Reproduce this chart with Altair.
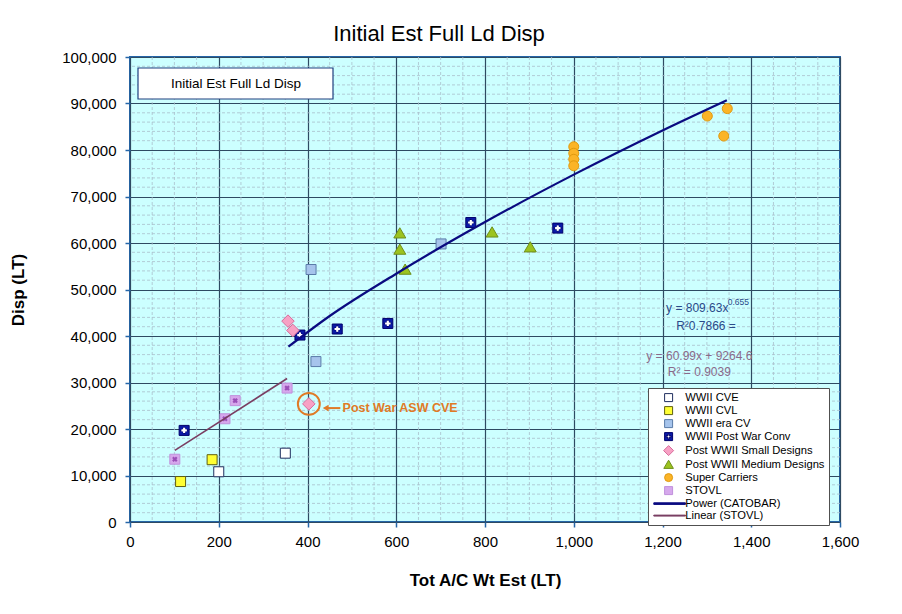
import altair as alt
import pandas as pd

# ---------------- data ----------------
categories = ["WWII CVE", "WWII CVL", "WWII era CV", "WWII Post War Conv",
              "Post WWII Small Designs", "Post WWII Medium Designs",
              "Super Carriers", "STOVL"]
trend_names = ["Power (CATOBAR)", "Linear (STOVL)"]

cve_x = [200, 350]
cve_y = [10800, 14800]
cvl_x = [114, 185]
cvl_y = [8700, 13400]
era_x = [408, 419, 701]
era_y = [54300, 34500, 59800]
conv_x = [122, 383, 467, 581, 768, 964]
conv_y = [19700, 40200, 41500, 42700, 64400, 63200]
small_x = [356, 367, 403]
small_y = [43200, 41200, 25400]
medium_x = [608, 608, 620, 816, 902]
medium_y = [62100, 58600, 54300, 62300, 59100]
super_x = [1000, 1000, 1000, 1000, 1301, 1346, 1338]
super_y = [80700, 79300, 78000, 76600, 87300, 88900, 83000]
stovl_x = [101, 214, 237, 354]
stovl_y = [13500, 22200, 26100, 28800]

power_x = [357, 450, 600, 800, 1000, 1200, 1345]
power_y = [37700, 44300, 53400, 64500, 74700, 84200, 90700]
linear_x = [101, 354]
linear_y = [15400, 30850]

x_ticks = [0, 200, 400, 600, 800, 1000, 1200, 1400, 1600]
y_ticks = [0, 10000, 20000, 30000, 40000, 50000, 60000, 70000, 80000, 90000, 100000]
x_minor = [v for v in range(50, 1600, 50) if v % 200 != 0]
y_minor = [v for v in range(2000, 100000, 2000) if v % 10000 != 0]

power_eq = "y = 809.63x"
power_exp = "0.655"
power_r2 = "R\u00b20.7866 ="
linear_eq = "y = 60.99x + 9264.6"
linear_r2 = "R\u00b2 = 0.9039"
callout_text = "Post War ASW CVE"
box_text = "Initial Est Full Ld Disp"
title_text = "Initial Est Full Ld Disp"

# ---------------- tables ----------------
series_xy = [cve_x, cvl_x, era_x, conv_x, small_x, medium_x, super_x, stovl_x]
series_yy = [cve_y, cvl_y, era_y, conv_y, small_y, medium_y, super_y, stovl_y]
rows = []
for name, xs_, ys_ in zip(categories, series_xy, series_yy):
    for a, b in zip(xs_, ys_):
        rows.append({"series": name, "x": a, "y": b})
pts = pd.DataFrame(rows)
power_df = pd.DataFrame({"x": power_x, "y": power_y})
linear_df = pd.DataFrame({"x": linear_x, "y": linear_y})

FONT = "Liberation Sans"
legend_domain = categories + trend_names

conv_path = ("M-1,-1L1,-1L1,1L-1,1Z "
             "M-0.17,-0.62L-0.17,-0.17L-0.62,-0.17L-0.62,0.17L-0.17,0.17L-0.17,0.62"
             "L0.17,0.62L0.17,0.17L0.62,0.17L0.62,-0.17L0.17,-0.17L0.17,-0.62Z")
diamond_path = "M-1.25,0L0,-1.25L1.25,0L0,1.25Z"
triangle_path = "M0,-1.1L1.2,0.95L-1.2,0.95Z"
power_path = "M-3.7,-0.2L4.2,-0.2L4.2,0.2L-3.7,0.2Z"
linear_path = "M-3.7,-0.12L4.2,-0.12L4.2,0.12L-3.7,0.12Z"

shape_range = ["square", "square", "square", conv_path, diamond_path, triangle_path,
               "circle", "square", power_path, linear_path]
fill_range = ["#FFFFFF", "#FFFF33", "#A6C4EC", "#0A1AA8", "#F7A1C4", "#9CC31F",
              "#FBB427", "#D6A8EC", "#0A0A80", "#7A3E62"]
stroke_range = ["#1F2F5F", "#5F5F10", "#5A7BA8", "#00006A", "#D86C9C", "#6E8F1A",
                "#E09A10", "#C090DC", "#0A0A80", "#7A3E62"]

xs = alt.Scale(domain=[0, 1600], nice=False, zero=False)
ys = alt.Scale(domain=[0, 100000], nice=False)

x_axis = alt.Axis(values=x_ticks, format=",.0f", grid=True, gridColor="#2E4A62", gridWidth=1.2,
                  domain=False, ticks=True, tickColor="#2566A8", tickSize=5, tickWidth=1.5,
                  labelFontSize=15, labelFont=FONT, labelColor="black", labelPadding=7,
                  labelFlush=False, labelOverlap=False,
                  title="Tot A/C Wt Est (LT)", titleFont=FONT, titleFontSize=17,
                  titleFontWeight="bold", titleColor="black", titleX=355, titleY=58,
                  titleBaseline="middle")
y_axis = alt.Axis(values=y_ticks, format=",.0f", grid=True, gridColor="#2E4A62", gridWidth=1.2,
                  domain=False, ticks=True, tickColor="#2566A8", tickSize=5, tickWidth=1.5,
                  labelFontSize=15, labelFont=FONT, labelColor="black", labelPadding=9,
                  labelFlush=False, labelOverlap=False,
                  title="Disp (LT)", titleFont=FONT, titleFontSize=17,
                  titleFontWeight="bold", titleColor="black", titleX=-112, titleY=232.5,
                  titleBaseline="middle", titleAlign="center", titleAngle=270)


def X(f="x"):
    return alt.X(f"{f}:Q", scale=xs, axis=x_axis)


def Y(f="y"):
    return alt.Y(f"{f}:Q", scale=ys, axis=y_axis)


leg = alt.Legend(title=None, orient="none", legendX=518, legendY=331,
                 fillColor="white", strokeColor="#505050", padding=4,
                 labelFont=FONT, labelFontSize=11.2, labelColor="black",
                 symbolSize=64, symbolStrokeWidth=1, symbolOffset=11,
                 labelOffset=11, rowPadding=0, labelLimit=300)

minor_v = alt.Chart(pd.DataFrame({"x": x_minor})).mark_rule(
    color="#A9BFCC", strokeDash=[3, 2], strokeWidth=0.8).encode(x=X())
minor_h = alt.Chart(pd.DataFrame({"y": y_minor})).mark_rule(
    color="#A9BFCC", strokeDash=[3, 2], strokeWidth=0.8).encode(y=Y())

points = alt.Chart(pts).mark_point(filled=True, size=100, strokeWidth=1, opacity=1).encode(
    x=X(), y=Y(),
    shape=alt.Shape("series:N", scale=alt.Scale(domain=legend_domain, range=shape_range), legend=leg),
    fill=alt.Fill("series:N", scale=alt.Scale(domain=legend_domain, range=fill_range), legend=leg),
    stroke=alt.Stroke("series:N", scale=alt.Scale(domain=legend_domain, range=stroke_range), legend=leg),
)

conv_cross = alt.Chart(pts[pts.series == "WWII Post War Conv"]).mark_point(
    shape="cross", filled=True, color="white", size=28, strokeWidth=0, opacity=1).encode(x=X(), y=Y())
stovl_cross = alt.Chart(pts[pts.series == "STOVL"]).mark_point(
    shape="cross", angle=45, filled=True, color="#9A4FB8", size=30, strokeWidth=0, opacity=1).encode(x=X(), y=Y())

power_line = alt.Chart(power_df).mark_line(color="#0A0A80", strokeWidth=2.2, interpolate="monotone").encode(
    x=X(), y=Y())
linear_line = alt.Chart(linear_df).mark_line(color="#7A3E62", strokeWidth=1.6).encode(x=X(), y=Y())

eq_df = pd.DataFrame({
    "x": [1208, 1298, 1283, 1283],
    "y": [46000, 42150, 35700, 32250],
    "t": [power_eq, power_r2, linear_eq, linear_r2],
})
eq_left = alt.Chart(eq_df.iloc[[0]]).mark_text(align="left", baseline="middle", font=FONT,
                                                fontSize=12, color="#2A4A8A").encode(x=X(), y=Y(), text="t:N")
eq_center_p = alt.Chart(eq_df.iloc[[1]]).mark_text(align="center", baseline="middle", font=FONT,
                                                   fontSize=12, color="#2A4A8A").encode(x=X(), y=Y(), text="t:N")
eq_center_l = alt.Chart(eq_df.iloc[[2, 3]]).mark_text(align="center", baseline="middle", font=FONT,
                                                      fontSize=12, color="#8A6A8A").encode(x=X(), y=Y(), text="t:N")
exp_df = pd.DataFrame({"x": [1347], "y": [47400], "t": [power_exp]})
eq_exp = alt.Chart(exp_df).mark_text(align="left", baseline="middle", font=FONT, fontSize=8.5,
                                     color="#2A4A8A").encode(x=X(), y=Y(), text="t:N")

call_pt = pd.DataFrame({"x": [small_x[2]], "y": [small_y[2]]})
call_circle = alt.Chart(call_pt).mark_point(shape="circle", filled=False, stroke="#E07A26",
                                            strokeWidth=2, size=480, opacity=1).encode(x=X(), y=Y())
arrow_df = pd.DataFrame({"x": [441], "x2": [474], "y": [24500]})
arrow_rule = alt.Chart(arrow_df).mark_rule(color="#E07A26", strokeWidth=2).encode(
    x=X(), x2="x2:Q", y=Y())
arrow_head = alt.Chart(arrow_df).mark_point(shape="triangle-left", filled=True, color="#E07A26",
                                            size=45, opacity=1).encode(x=X(), y=Y())
call_df = pd.DataFrame({"x": [479], "y": [24500], "t": [callout_text]})
call_text = alt.Chart(call_df).mark_text(align="left", baseline="middle", font=FONT, fontSize=12.5,
                                         fontWeight="bold", color="#E07A26").encode(x=X(), y=Y(), text="t:N")

one = pd.DataFrame({"t": [box_text]})
box_rect = alt.Chart(one).mark_rect(fill="white", stroke="#1F3F7F", strokeWidth=1.2).encode(
    x=alt.value(8), x2=alt.value(203), y=alt.value(11), y2=alt.value(42))
box_label = alt.Chart(one).mark_text(font=FONT, fontSize=13.5, color="black", align="center",
                                     baseline="middle").encode(x=alt.value(106), y=alt.value(27), text="t:N")

chart = alt.layer(
    minor_v, minor_h, points, conv_cross, stovl_cross, power_line, linear_line,
    eq_left, eq_center_p, eq_center_l, eq_exp,
    call_circle, arrow_rule, arrow_head, call_text, box_rect, box_label,
).properties(
    width=710, height=465,
    title=alt.TitleParams(title_text, font=FONT, fontSize=22, fontWeight="normal", color="black",
                          dx=-46, offset=4),
    padding={"left": 122, "top": 49, "right": 50, "bottom": 80},
    autosize=alt.AutoSizeParams(type="none"),
    background="white",
).configure_view(
    fill="#CCFFFF", stroke="#2566A8", strokeWidth=2
)

chart.save("out.html", embed_options={"renderer": "svg", "actions": False})
